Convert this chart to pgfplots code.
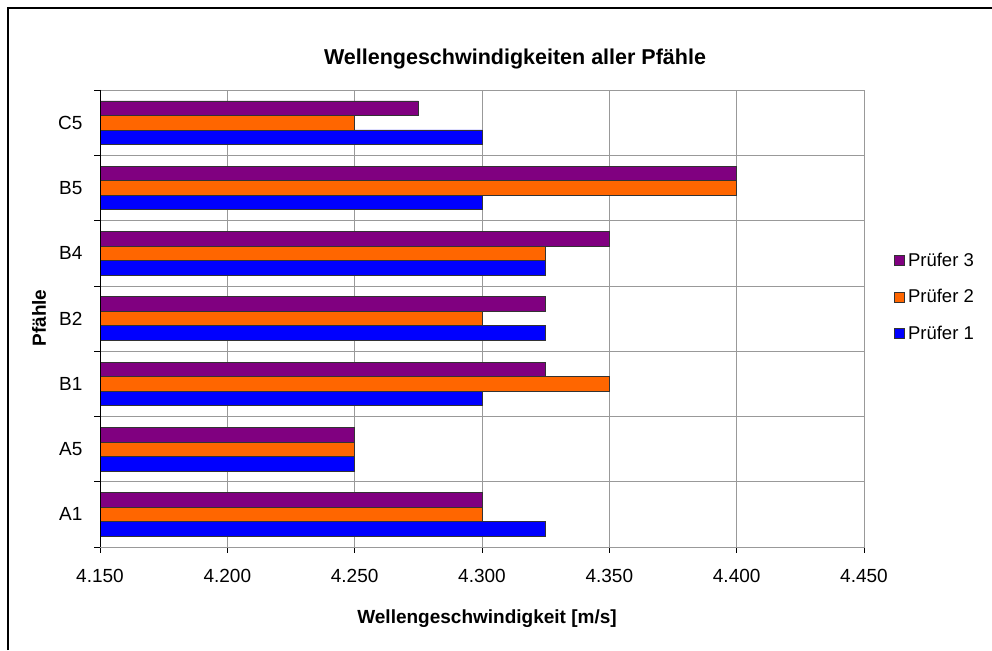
\documentclass[border=0pt]{standalone}
\usepackage{fontspec}
\setmainfont{Liberation Sans}
\usepackage{pgfplots}
\pgfplotsset{compat=1.18}
\definecolor{cP1}{HTML}{0000FF}
\definecolor{cP2}{HTML}{FF6600}
\definecolor{cP3}{HTML}{800080}
\begin{document}
\begin{tikzpicture}
\useasboundingbox (0pt,0pt) rectangle (992pt,650pt);
\draw[black, line width=1.3pt] (8pt,0pt) -- (8pt,642pt) -- (992pt,642pt);
\node[font=\fontsize{21.5}{25}\selectfont\bfseries] at (515pt,591pt) {Wellengeschwindigkeiten aller Pfähle};
\node[font=\fontsize{19}{23}\selectfont\bfseries] at (487pt,31pt) {Wellengeschwindigkeit [m/s]};
\node[font=\fontsize{19}{23}\selectfont\bfseries, rotate=90] at (39pt,332pt) {Pfähle};
\begin{axis}[
  at={(100pt,103pt)}, anchor=south west, scale only axis,
  width=764pt, height=457pt,
  xbar, bar width=14.5pt,
  xmin=4.15, xmax=4.45,
  xtick={4.15,4.2,4.25,4.3,4.35,4.4,4.45},
  ymin=-0.5, ymax=6.5,
  ytick={0,1,2,3,4,5,6},
  yticklabels={A1,A5,B1,B2,B4,B5,C5},
  minor ytick={-0.5,0.5,1.5,2.5,3.5,4.5,5.5,6.5},
  xmajorgrids, yminorgrids, ymajorgrids=false,
  grid style={draw=gray!80, line width=0.6pt},
  minor grid style={draw=gray!80, line width=0.6pt},
  tick align=outside, tick pos=left,
  major tick length=6pt, minor tick length=6pt,
  tick style={black, line width=0.6pt},
  major y tick style={draw=none},
  axis line style={draw=gray!80, line width=0.6pt},
  xticklabel style={font=\fontsize{19}{22}\selectfont, yshift=-13pt},
  yticklabel style={font=\fontsize{19}{22}\selectfont, xshift=-8pt},
  /pgf/number format/.cd, fixed, fixed zerofill, precision=3, assume math mode=true,
  /pgfplots/.cd,
  reverse legend,
  legend style={at={(rel axis cs:1.0392,0.648)}, anchor=north west, draw=none, fill=none,
    font=\fontsize{18.5}{22}\selectfont, row sep=17.5pt, inner sep=0pt,
    /tikz/every odd column/.append style={column sep=1.5pt},
    /tikz/every even column/.append style={column sep=0pt}},
  legend image code/.code={\draw[#1, draw=black!80, line width=0.4pt] (0pt,-5pt) rectangle (10pt,5pt);},
  legend cell align=left,
]
\addplot[fill=cP1, draw=black!80, line width=0.5pt, bar shift=-14.5pt] coordinates {
  (4.325,0) (4.250,1) (4.300,2) (4.325,3) (4.325,4) (4.300,5) (4.300,6)};
\addplot[fill=cP2, draw=black!80, line width=0.5pt, bar shift=0pt] coordinates {
  (4.300,0) (4.250,1) (4.350,2) (4.300,3) (4.325,4) (4.400,5) (4.250,6)};
\addplot[fill=cP3, draw=black!80, line width=0.5pt, bar shift=14.5pt] coordinates {
  (4.300,0) (4.250,1) (4.325,2) (4.325,3) (4.350,4) (4.400,5) (4.275,6)};
\legend{Prüfer 1,Prüfer 2,Prüfer 3}
\draw[black, line width=0.9pt] (rel axis cs:0,1) -- (rel axis cs:0,0) -- (rel axis cs:1,0);
\end{axis}
\end{tikzpicture}
\end{document}
